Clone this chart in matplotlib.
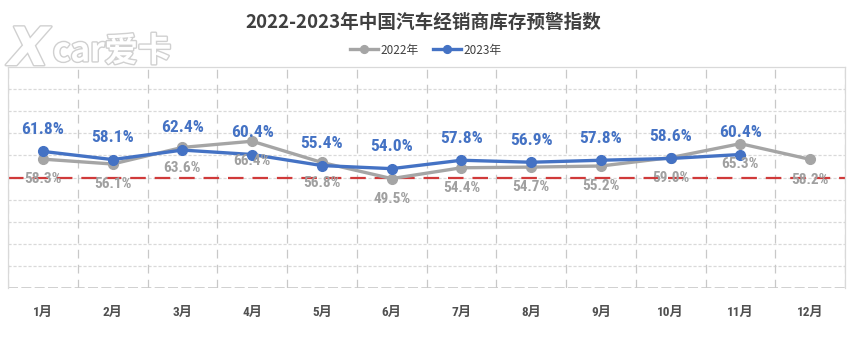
import matplotlib.pyplot as plt
import matplotlib.patheffects as pe

plt.rcParams['font.family'] = ['Noto Sans CJK SC', 'DejaVu Sans']

months = ['1月', '2月', '3月', '4月', '5月', '6月', '7月', '8月', '9月', '10月', '11月', '12月']
idx_2022 = [58.3, 56.1, 63.6, 66.4, 56.8, 49.5, 54.4, 54.7, 55.2, 59.0, 65.3, 58.2]
idx_2023 = [61.8, 58.1, 62.4, 60.4, 55.4, 54.0, 57.8, 56.9, 57.8, 58.6, 60.4]
warn_line = 50

gray = '#a5a5a5'
blue = '#4472c4'
narrow = ['Roboto Condensed', 'Noto Sans CJK SC']

fig = plt.figure(figsize=(8.52, 3.45), dpi=100)
ax = fig.add_axes([0.0094, 0.165, 0.9824, 0.641])

x22 = list(range(len(idx_2022)))
x23 = list(range(len(idx_2023)))

# grid
for y in range(10, 100, 10):
    ax.axhline(y, color='#d9d9d9', lw=0.9, ls=(0, (2.5, 1.5)), zorder=0)
for k in range(13):
    ax.axvline(k - 0.5, color='#c8c8c8', lw=0.9, ls=(0, (7, 5)), zorder=0)
ax.axhline(0, color='#c8c8c8', lw=1.2, ls=(0, (6, 2)), zorder=0)

ax.axhline(warn_line, color='#d03a3a', lw=1.6, ls=(0, (7, 4)), zorder=1)

ax.plot(x22, idx_2022, color=gray, lw=2.4, marker='o', ms=7, zorder=3, label='2022年')
ax.plot(x23, idx_2023, color=blue, lw=2.4, marker='o', ms=7, zorder=4, label='2023年')

for x, v in zip(x23, idx_2023):
    ax.annotate(f'{v:.1f}%', (x, v), xytext=(0, 16), textcoords='offset points',
                ha='center', va='center', color=blue, fontsize=12.5,
                fontweight='bold', family=narrow, zorder=5)
for x, v in zip(x22, idx_2022):
    ax.annotate(f'{v:.1f}%', (x, v), xytext=(0, -14.5), textcoords='offset points',
                ha='center', va='center', color='#a0a0a0', fontsize=11,
                fontweight='bold', family=narrow, zorder=5)

ax.set_xlim(-0.5, 11.5)
ax.set_ylim(0, 100)
ax.set_yticks([])
ax.set_xticks(x22)
ax.set_xticklabels(months, family=narrow, fontweight='bold', fontsize=9.5, color='#505050')
ax.tick_params(axis='x', length=0, pad=13)
for s in ['left', 'right', 'top']:
    ax.spines[s].set_color('#d9d9d9')
    ax.spines[s].set_linewidth(0.9)
ax.spines['bottom'].set_visible(False)

fig.text(0.497, 0.935, '2022-2023年中国汽车经销商库存预警指数', ha='center', va='center',
         fontsize=13.4, fontweight='bold', color='#404040')

leg = fig.legend(loc='center', bbox_to_anchor=(0.50, 0.855), ncol=2, frameon=False,
                 fontsize=8.5, handlelength=2.4, columnspacing=1.2, handletextpad=0.2,
                 markerscale=0.8)
for t in leg.get_texts():
    t.set_color('#404040')

# site watermark
halo = [pe.withStroke(linewidth=2, foreground='#d0d0d0')]
fig.text(0.010, 0.855, 'X', fontsize=38, fontweight='bold', color='white', style='italic',
         family='DejaVu Sans', va='center', path_effects=halo)
fig.text(0.062, 0.85, 'car爱卡', fontsize=24, color='white', style='italic', va='center',
         fontweight='bold', path_effects=halo)

fig.savefig('out.png', dpi=100)
